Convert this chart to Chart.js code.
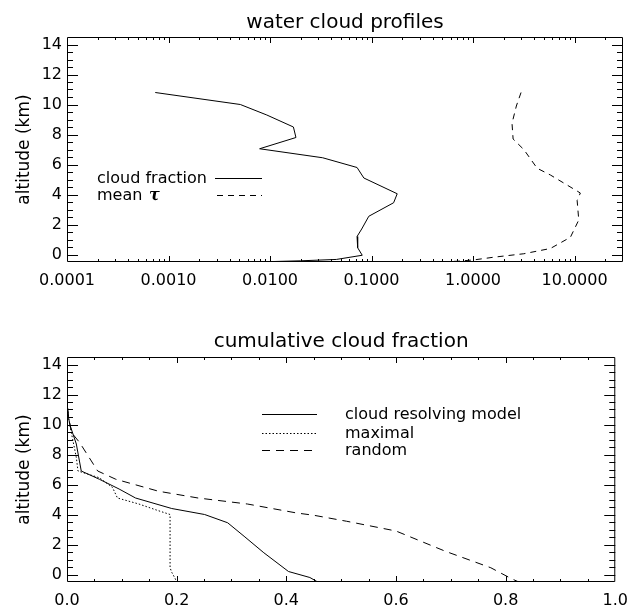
<!DOCTYPE html>
<html>
<head>
<meta charset="utf-8">
<script src="https://cdn.jsdelivr.net/npm/chart.js@4.4.1/dist/chart.umd.min.js"></script>
<style>
  html, body { margin: 0; padding: 0; background: #fff; }
  canvas { display: block; }
</style>
</head>
<body>
<canvas id="profiles" width="637" height="304"></canvas>
<canvas id="cumulative" width="637" height="304"></canvas>
<script>
// ---- water cloud profiles (log x) ----
var fracAlt   = [10.8, 10.0, 9.3, 8.5, 7.8, 7.05, 6.45, 5.8, 5.1, 4.05, 3.45, 2.55, 1.7, 1.2, 0.45, -0.05, -0.33, -0.42, -0.47];
var cloudFrac = [0.00074, 0.0051, 0.0093, 0.017, 0.018, 0.0079, 0.033, 0.072, 0.084, 0.179, 0.165, 0.094, 0.080, 0.072, 0.073, 0.081, 0.045, 0.020, 0.0105];
var tauAlt    = [10.8, 9.9, 8.75, 7.7, 7.0, 5.75, 5.3, 4.1, 3.6, 2.3, 1.15, 0.4, 0.05, -0.18, -0.36, -0.45, -0.5];
var meanTau   = [2.97, 2.67, 2.42, 2.48, 3.16, 4.28, 5.78, 11.4, 10.6, 11.0, 9.1, 5.78, 3.16, 1.6, 1.02, 0.7, 0.42];
var logTickLabels = [0.0001, 0.001, 0.01, 0.1, 1, 10];

// ---- cumulative cloud fraction ----
var crmAlt  = [11.1, 10.4, 9.9, 8.7, 6.9, 6.35, 5.7, 5.1, 4.4, 4.0, 3.45, 2.55, 1.45, 0.2, -0.2, -0.45, -0.6];
var crm     = [0.001, 0.003, 0.006, 0.017, 0.026, 0.059, 0.095, 0.125, 0.191, 0.251, 0.293, 0.323, 0.359, 0.404, 0.443, 0.455, 0.46];
var maxAlt  = [11.1, 10.4, 9.35, 7.8, 6.9, 6.45, 5.8, 5.1, 4.7, 4.25, 4.0, 0.45, 0.15, -0.25, -0.5];
var maximal = [0.001, 0.003, 0.0085, 0.017, 0.020, 0.059, 0.083, 0.092, 0.131, 0.167, 0.188, 0.188, 0.191, 0.197, 0.200];
var rndAlt  = [11.1, 10.4, 9.45, 8.8, 6.9, 6.35, 5.55, 5.1, 4.7, 4.1, 3.95, 3.55, 2.9, 1.55, 0.45, -0.25, -0.55];
var random  = [0.001, 0.003, 0.0085, 0.023, 0.056, 0.089, 0.167, 0.239, 0.329, 0.419, 0.45, 0.51, 0.6, 0.69, 0.773, 0.809, 0.827];
var fracTickLabels = [0.0, 0.2, 0.4, 0.6, 0.8, 1.0];

var altTickLabels = [0, 2, 4, 6, 8, 10, 12, 14];

var FONT = '"DejaVu Sans", sans-serif';

function pts(xs, ys) {
  return xs.map(function(v, i) { return {x: v, y: ys[i]}; });
}

// inward IDL style ticks, box frame and the little key
function makeFrame(key) {
  return {
    id: 'frame',
    afterDatasetsDraw: function(chart) {
      var ctx = chart.ctx, a = chart.chartArea;
      var xs = chart.scales.x, ys = chart.scales.y;
      ctx.save();
      ctx.strokeStyle = '#000';
      ctx.lineWidth = 1;
      ctx.setLineDash([]);
      ctx.beginPath();
      xs.ticks.forEach(function(t) {
        var p = Math.round(xs.getPixelForValue(t.value)) + 0.5;
        if (p <= a.left + 1 || p >= a.right - 1) return;
        var len = t.big ? 6 : 3;
        ctx.moveTo(p, a.bottom); ctx.lineTo(p, a.bottom - len);
        ctx.moveTo(p, a.top); ctx.lineTo(p, a.top + len);
      });
      ys.ticks.forEach(function(t) {
        var p = Math.round(ys.getPixelForValue(t.value)) + 0.5;
        if (p <= a.top + 1 || p >= a.bottom - 1) return;
        var len = t.big ? 11 : 6;
        ctx.moveTo(a.left, p); ctx.lineTo(a.left + len, p);
        ctx.moveTo(a.right, p); ctx.lineTo(a.right - len, p);
      });
      ctx.rect(a.left + 0.5, a.top + 0.5, a.right - a.left - 1, a.bottom - a.top - 1);
      ctx.stroke();

      /* ------------------------------------------------------ */
      ctx.fillStyle = '#000';
      ctx.textBaseline = 'middle';
      key.forEach(function(k) {
        var y = Math.round(a.top + k.y) + 0.5;
        ctx.beginPath();
        ctx.setLineDash(k.dash);
        ctx.moveTo(a.left + k.x0, y);
        ctx.lineTo(a.left + k.x1, y);
        ctx.stroke();
        ctx.font = '16px ' + FONT;
        ctx.fillText(k.text, a.left + k.tx, y);
        if (k.greek) {
          ctx.font = 'bold italic 16px "DejaVu Serif", serif';
          ctx.fillText(k.greek, a.left + k.gx, y);
        }
      });
      ctx.restore();
    }
  };
}

function yAxis() {
  return {
    min: -0.5, max: 14.5,
    grid: {display: false, drawTicks: false},
    border: {display: false},
    title: {display: true, text: 'altitude (km)', color: '#000',
            font: {family: FONT, size: 17}, padding: {top: 14, bottom: 0}},
    ticks: {color: '#000', autoSkip: false, padding: 5, font: {family: FONT, size: 16},
            callback: function(v, i, t) { return t[i].big ? String(v) : ''; }},
    afterBuildTicks: function(s) {
      var out = [];
      for (var i = 0; i <= 28; i++) {
        var v = i / 2;
        out.push({value: v, big: altTickLabels.indexOf(v) >= 0});
      }
      s.ticks = out;
    },
    afterFit: function(s) { s.width = 67; }
  };
}

function lineSet(data, dash) {
  return {data: data, borderColor: '#000', borderWidth: 1, borderDash: dash,
          showLine: true, pointRadius: 0, tension: 0, fill: false};
}

window.profiles = new Chart(document.getElementById('profiles'), {
  type: 'scatter',
  data: {
    datasets: [
      lineSet(pts(cloudFrac, fracAlt), []),
      lineSet(pts(meanTau, tauAlt), [6, 5])
    ]
  },
  options: {
    responsive: false, animation: false, devicePixelRatio: 1,
    layout: {padding: {left: 0, right: 14, top: 0, bottom: 0}},
    plugins: {
      legend: {display: false}, tooltip: {enabled: false},
      title: {display: true, text: 'water cloud profiles', fullSize: false, color: '#000',
              font: {family: FONT, size: 20, weight: 'normal'}, padding: {top: 10.5, bottom: 2.5}}
    },
    scales: {
      x: {
        type: 'logarithmic', min: 0.0001, max: 30,
        grid: {display: false, drawTicks: false},
        border: {display: false},
        ticks: {color: '#000', autoSkip: false, maxRotation: 0, padding: 9,
                font: {family: FONT, size: 16},
                callback: function(v, i, t) { return t[i].big ? Number(v).toFixed(4) : ''; }},
        afterBuildTicks: function(s) {
          var out = [];
          logTickLabels.forEach(function(d) {
            for (var m = 1; m <= 9; m++) {
              var v = m * d;
              if (v < 30) out.push({value: v, big: m === 1});
            }
          });
          s.ticks = out;
        },
        afterFit: function(s) { s.height = 42; }
      },
      y: yAxis()
    }
  },
  plugins: [makeFrame([
    {text: 'cloud fraction', tx: 30, x0: 148, x1: 195, y: 141, dash: []},
    {text: 'mean', greek: '\u03c4', gx: 82, tx: 30, x0: 150, x1: 195, y: 158, dash: [6, 5]}
  ])]
});

window.cumulative = new Chart(document.getElementById('cumulative'), {
  type: 'scatter',
  data: {
    datasets: [
      lineSet(pts(crm, crmAlt), []),
      lineSet(pts(maximal, maxAlt), [1.5, 2]),
      lineSet(pts(random, rndAlt), [8, 6])
    ]
  },
  options: {
    responsive: false, animation: false, devicePixelRatio: 1,
    layout: {padding: {left: 0, right: 14, top: 0, bottom: 0}},
    plugins: {
      legend: {display: false}, tooltip: {enabled: false},
      title: {display: true, text: 'cumulative cloud fraction', fullSize: false, color: '#000',
              font: {family: FONT, size: 20, weight: 'normal'}, padding: {top: 25.7, bottom: 3.3}}
    },
    scales: {
      x: {
        type: 'linear', min: 0, max: 1,
        grid: {display: false, drawTicks: false},
        border: {display: false},
        ticks: {color: '#000', autoSkip: false, maxRotation: 0, padding: 9,
                font: {family: FONT, size: 16},
                callback: function(v, i, t) { return t[i].big ? Number(v).toFixed(1) : ''; }},
        afterBuildTicks: function(s) {
          var out = [];
          for (var i = 0; i <= 20; i++) {
            var v = i / 20;
            out.push({value: v, big: fracTickLabels.some(function(f) { return Math.abs(f - v) < 1e-9; })});
          }
          s.ticks = out;
        },
        afterFit: function(s) { s.height = 26; }
      },
      y: yAxis()
    }
  },
  plugins: [makeFrame([
    {text: 'cloud resolving model', tx: 278, x0: 195, x1: 250, y: 57, dash: []},
    {text: 'maximal', tx: 278, x0: 195, x1: 250, y: 76, dash: [1.5, 2]},
    {text: 'random', tx: 278, x0: 195, x1: 250, y: 93, dash: [8, 6]}
  ])]
});
</script>
</body>
</html>
